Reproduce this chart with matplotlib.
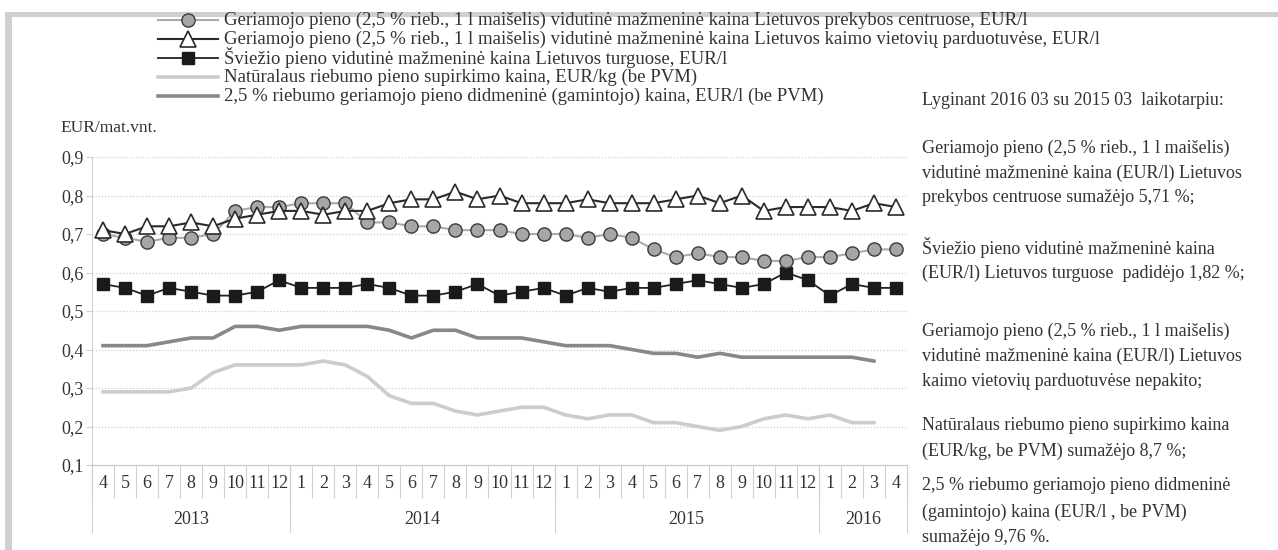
import numpy as np
import matplotlib
matplotlib.use("Agg")
import matplotlib.pyplot as plt
from matplotlib.lines import Line2D

plt.rcParams['font.family'] = ['Liberation Serif', 'DejaVu Serif']

# --- data: 2013-04 ... 2016-04 ---
years = ['2013', '2014', '2015', '2016']
months = [4, 5, 6, 7, 8, 9, 10, 11, 12,
          1, 2, 3, 4, 5, 6, 7, 8, 9, 10, 11, 12,
          1, 2, 3, 4, 5, 6, 7, 8, 9, 10, 11, 12,
          1, 2, 3, 4]
year_counts = [9, 12, 12, 4]

centrai = [0.70, 0.69, 0.68, 0.69, 0.69, 0.70, 0.76, 0.77, 0.77,
           0.78, 0.78, 0.78, 0.73, 0.73, 0.72, 0.72, 0.71, 0.71, 0.71, 0.70, 0.70,
           0.70, 0.69, 0.70, 0.69, 0.66, 0.64, 0.65, 0.64, 0.64, 0.63, 0.63, 0.64,
           0.64, 0.65, 0.66, 0.66]
kaimas = [0.71, 0.70, 0.72, 0.72, 0.73, 0.72, 0.74, 0.75, 0.76,
          0.76, 0.75, 0.76, 0.76, 0.78, 0.79, 0.79, 0.81, 0.79, 0.80, 0.78, 0.78,
          0.78, 0.79, 0.78, 0.78, 0.78, 0.79, 0.80, 0.78, 0.80, 0.76, 0.77, 0.77,
          0.77, 0.76, 0.78, 0.77]
turgus = [0.57, 0.56, 0.54, 0.56, 0.55, 0.54, 0.54, 0.55, 0.58,
          0.56, 0.56, 0.56, 0.57, 0.56, 0.54, 0.54, 0.55, 0.57, 0.54, 0.55, 0.56,
          0.54, 0.56, 0.55, 0.56, 0.56, 0.57, 0.58, 0.57, 0.56, 0.57, 0.60, 0.58,
          0.54, 0.57, 0.56, 0.56]
supirkimas = [0.29, 0.29, 0.29, 0.29, 0.30, 0.34, 0.36, 0.36, 0.36,
              0.36, 0.37, 0.36, 0.33, 0.28, 0.26, 0.26, 0.24, 0.23, 0.24, 0.25, 0.25,
              0.23, 0.22, 0.23, 0.23, 0.21, 0.21, 0.20, 0.19, 0.20, 0.22, 0.23, 0.22,
              0.23, 0.21, 0.21, np.nan]
didmena = [0.41, 0.41, 0.41, 0.42, 0.43, 0.43, 0.46, 0.46, 0.45,
           0.46, 0.46, 0.46, 0.46, 0.45, 0.43, 0.45, 0.45, 0.43, 0.43, 0.43, 0.42,
           0.41, 0.41, 0.41, 0.40, 0.39, 0.39, 0.38, 0.39, 0.38, 0.38, 0.38, 0.38,
           0.38, 0.38, 0.37, np.nan]

labels = [
    'Geriamojo pieno (2,5 % rieb., 1 l maišelis) vidutinė mažmeninė kaina Lietuvos prekybos centruose, EUR/l',
    'Geriamojo pieno (2,5 % rieb., 1 l maišelis) vidutinė mažmeninė kaina Lietuvos kaimo vietovių parduotuvėse, EUR/l',
    'Šviežio pieno vidutinė mažmeninė kaina Lietuvos turguose, EUR/l',
    'Natūralaus riebumo pieno supirkimo kaina, EUR/kg (be PVM)',
    '2,5 % riebumo geriamojo pieno didmeninė (gamintojo) kaina, EUR/l (be PVM)',
]

side_text = [
    'Lyginant 2016 03 su 2015 03  laikotarpiu:',
    'Geriamojo pieno (2,5 % rieb., 1 l maišelis)',
    'vidutinė mažmeninė kaina (EUR/l) Lietuvos',
    'prekybos centruose sumažėjo 5,71 %;',
    'Šviežio pieno vidutinė mažmeninė kaina',
    '(EUR/l) Lietuvos turguose  padidėjo 1,82 %;',
    'Geriamojo pieno (2,5 % rieb., 1 l maišelis)',
    'vidutinė mažmeninė kaina (EUR/l) Lietuvos',
    'kaimo vietovių parduotuvėse nepakito;',
    'Natūralaus riebumo pieno supirkimo kaina',
    '(EUR/kg, be PVM) sumažėjo 8,7 %;',
    '2,5 % riebumo geriamojo pieno didmeninė',
    '(gamintojo) kaina (EUR/l , be PVM)',
    'sumažėjo 9,76 %.',
]
side_y = [100, 148, 173, 198, 248, 273, 331, 356, 382, 425, 451, 486, 512, 538]

W, H = 1278, 550
txt = '#333333'
fs = 13

fig = plt.figure(figsize=(W / 100, H / 100), dpi=100)
fig.patch.set_facecolor('white')

# grey frame of the scanned page
fig.add_artist(plt.Rectangle((5 / W, 0), 7 / W, 1 - 12 / H, transform=fig.transFigure,
                             color='#cfcfcf', lw=0))
fig.add_artist(plt.Rectangle((5 / W, 1 - 17 / H), 1 - 5 / W, 5 / H, transform=fig.transFigure,
                             color='#cfcfcf', lw=0))

ax = fig.add_axes([92 / W, 1 - 465 / H, (907 - 92) / W, (465 - 157) / H])
x = np.arange(len(months))

styles = [
    dict(color='#aaaaaa', lw=1.5, marker='o', ms=9.5, mfc='#a6a6a6', mec='#3a3a3a', mew=1.0, zorder=4),
    dict(color='#2a2a2a', lw=1.5, marker='^', ms=11.5, mfc='white', mec='#2a2a2a', mew=1.2, zorder=5),
    dict(color='#222222', lw=1.3, marker='s', ms=8.5, mfc='#1a1a1a', mec='#1a1a1a', zorder=3),
    dict(color='#cccccc', lw=2.6, zorder=2),
    dict(color='#888888', lw=2.6, zorder=2),
]
for ys, st in zip([centrai, kaimas, turgus, supirkimas, didmena], styles):
    ax.plot(x, ys, **st)

ax.set_xlim(-0.5, len(months) - 0.5)
ax.set_ylim(0.1, 0.9)
ax.set_yticks(np.arange(0.1, 0.91, 0.1))
ax.set_yticklabels([('%.1f' % v).replace('.', ',') for v in np.arange(0.1, 0.91, 0.1)],
                   fontsize=fs, color=txt)
ax.yaxis.grid(True, color='#cfcfcf', lw=0.9, ls=(0, (1, 1.5)))
ax.set_axisbelow(True)
for s in ['top', 'right']:
    ax.spines[s].set_visible(False)
ax.spines['left'].set_color('#d0d0d0')
ax.spines['bottom'].set_color('#c8c8c8')
ax.tick_params(axis='y', length=4, color='#d0d0d0', pad=2)

# multi-level category axis
ax.set_xticks(np.arange(-0.5, len(months), 1))
ax.tick_params(axis='x', length=24, color='#d0d0d0', labelbottom=False)
tr = ax.get_xaxis_transform()
px = 1 / (465 - 157)
for i, m in enumerate(months):
    ax.text(i, -19 * px, str(m), transform=tr, ha='center', va='center',
            fontsize=fs, color=txt)
edges = np.concatenate([[0], np.cumsum(year_counts)]) - 0.5
for e in edges:
    ax.plot([e, e], [0, -67 * px], transform=tr, color='#d0d0d0', lw=0.8, clip_on=False)
for k, yr in enumerate(years):
    ax.text((edges[k] + edges[k + 1]) / 2, -55 * px, yr, transform=tr,
            ha='center', va='center', fontsize=fs, color=txt)

fig.text(60 / W, 1 - 128 / H, 'EUR/mat.vnt.', fontsize=fs - 0.5, color=txt, va='center')

# legend drawn by hand to get the tight row spacing of the original
for k, (lab, st) in enumerate(zip(labels, styles)):
    yy = 1 - (20 + k * 19) / H
    hs = {kk: v for kk, v in st.items() if kk != 'zorder'}
    hs.update(markevery=[1])
    fig.add_artist(Line2D([158 / W, 188 / W, 218 / W], [yy, yy, yy],
                          transform=fig.transFigure, **hs))
    fig.text(224 / W, yy, lab, fontsize=13.5, color=txt, va='center')

for line, yp in zip(side_text, side_y):
    fig.text(922 / W, 1 - yp / H, line, fontsize=fs, color=txt, va='center')

fig.savefig('out.png', dpi=100)
